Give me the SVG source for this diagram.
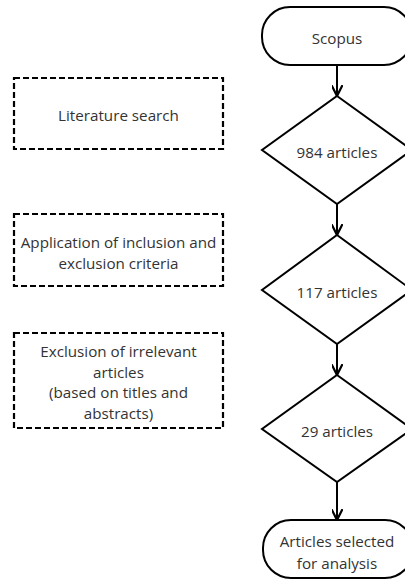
<svg xmlns="http://www.w3.org/2000/svg" width="405" height="581" viewBox="0 0 405 581">
<defs>
<marker id="ah" viewBox="0 0 10 10" refX="9" refY="5" markerWidth="5.5" markerHeight="5.5" orient="auto" markerUnits="strokeWidth">
<path d="M0,0 L10,5 L0,10" fill="none" stroke="#000" stroke-width="2"/>
</marker>
<style>
.s{fill:#fff;stroke:#000;stroke-width:2}
.d{fill:#fff;stroke:#000;stroke-width:2.2;stroke-dasharray:6 3}
.t{font-family:"Open Sans","Noto Sans",sans-serif;font-size:15.2px;fill:#333;text-anchor:middle;dominant-baseline:central}
.c{stroke:#000;stroke-width:2;fill:none;marker-end:url(#ah)}
</style>
</defs>
<rect width="405" height="581" fill="#fff"/>
<g id="connectors">
<line class="c" x1="337" y1="65" x2="337" y2="95"/>
<line class="c" x1="337" y1="204" x2="337" y2="234"/>
<line class="c" x1="337" y1="344" x2="337" y2="374"/>
<line class="c" x1="337" y1="482" x2="337" y2="519"/>
</g>
<g id="scopus">
<rect class="s" x="262" y="7" width="150" height="58" rx="28"/>
<text class="t" x="337" y="38">Scopus</text>
</g>
<g id="d984">
<polygon class="s" points="337,96 412,150 337,204 262,150"/>
<text class="t" x="337" y="152">984 articles</text>
</g>
<g id="d117">
<polygon class="s" points="337,235 412,290 337,344 262,290"/>
<text class="t" x="337" y="292">117 articles</text>
</g>
<g id="d29">
<polygon class="s" points="337,375 412,429 337,482 262,429"/>
<text class="t" x="337" y="431">29 articles</text>
</g>
<g id="selected">
<rect class="s" x="263" y="520" width="150" height="58" rx="28"/>
<text class="t" x="337" y="541">Articles selected</text>
<text class="t" x="337" y="563">for analysis</text>
</g>
<g id="lit">
<rect class="d" x="14" y="78" width="209" height="71"/>
<text class="t" x="118.5" y="115">Literature search</text>
</g>
<g id="incl">
<rect class="d" x="14" y="214" width="209" height="72"/>
<text class="t" x="118.5" y="242">Application of inclusion and</text>
<text class="t" x="118.5" y="263">exclusion criteria</text>
</g>
<g id="excl">
<rect class="d" x="14" y="333" width="209" height="95"/>
<text class="t" x="118.5" y="351">Exclusion of irrelevant</text>
<text class="t" x="118.5" y="372">articles</text>
<text class="t" x="118.5" y="392">(based on titles and</text>
<text class="t" x="118.5" y="413">abstracts)</text>
</g>
</svg>
